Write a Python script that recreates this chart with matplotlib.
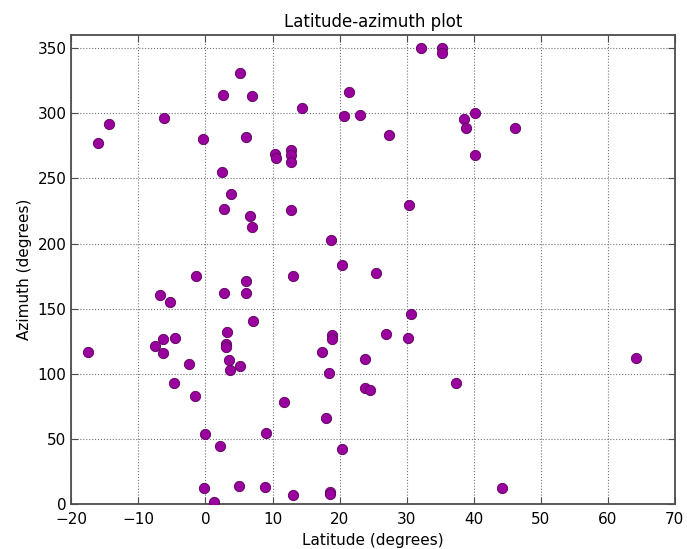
import matplotlib
matplotlib.use("Agg")
import matplotlib.pyplot as plt

# latitude (degrees) and azimuth (degrees)
latitude = [-16.0, -14.4, -6.2, -0.4, 5.2, 2.6, 6.9, 6.0, 2.4, 3.8,
            2.8, 6.6, 6.9, 10.3, 10.5, 12.8, 12.8, 12.8, 12.8, 14.4,
            21.4, 20.7, 23.0, 18.8, 20.3, 25.4, -1.4, 6.0, 13.1, 32.1,
            35.3, 35.3, 27.4, 38.6, 38.8, 40.2, 40.2, 46.2, 30.4, -17.5,
            -6.8, -5.3, 2.7, 6.0, 7.1, 3.2, 3.1, 3.1, -4.5, -6.3,
            -7.5, -6.3, -2.4, 3.5, 3.7, 5.2, -4.7, -1.6, 0.0, 2.2,
            9.0, 11.7, -0.2, 1.3, 5.0, 8.9, 13.1, 18.6, 18.6, 17.4,
            18.9, 18.9, 18.4, 18.0, 20.4, 23.8, 23.8, 24.6, 30.7, 26.9,
            30.2, 37.4, 64.2, 44.2]
azimuth = [277, 292, 296, 280.5, 331, 314, 313, 282, 254.6, 237.8,
           226.6, 221.2, 212.3, 269, 265.4, 271.5, 268, 262.3, 225.8, 304,
           316, 298, 298.9, 202.5, 183.4, 177.2, 175, 171, 175, 350.4,
           350, 346, 283.3, 295.3, 288.6, 299.9, 267.7, 288.6, 229.7, 116.7,
           160.2, 154.8, 161.7, 161.7, 140.8, 131.8, 123, 120.5, 127.2, 126.4,
           121.3, 116.2, 107.3, 110.6, 102.9, 106.3, 93, 83, 53.4, 44.7,
           54.4, 78.2, 12.3, 1.5, 13.8, 13, 7.1, 9, 7.5, 117,
           130, 126.4, 100.4, 66.1, 42.1, 111.1, 88.7, 87.9, 146.1, 130.5,
           127.4, 93, 111.9, 12.3]

fig = plt.figure(figsize=(6.87, 5.49), dpi=100)
ax = fig.add_axes([0.104, 0.082, 0.878, 0.854])

ax.scatter(latitude, azimuth, s=55, c="#9a009e", edgecolors="#5a005a",
           linewidths=0.6, zorder=3)

ax.set_xlim(-20, 70)
ax.set_ylim(0, 360)
ax.set_xticks(range(-20, 71, 10))
ax.set_yticks(range(0, 351, 50))
ax.grid(True, linestyle=":", color="0.45", linewidth=0.8)
ax.tick_params(direction="in", top=True, right=True, labelsize=11, length=5,
               color="0.3")
ax.tick_params(axis="x", pad=6)
for sp in ax.spines.values():
    sp.set_linewidth(1.3)
    sp.set_color("0.3")

ax.set_title("Latitude-azimuth plot", fontsize=12)
ax.set_xlabel("Latitude (degrees)", fontsize=11)
ax.set_ylabel("Azimuth (degrees)", fontsize=11)

fig.savefig("out.png", dpi=100)
